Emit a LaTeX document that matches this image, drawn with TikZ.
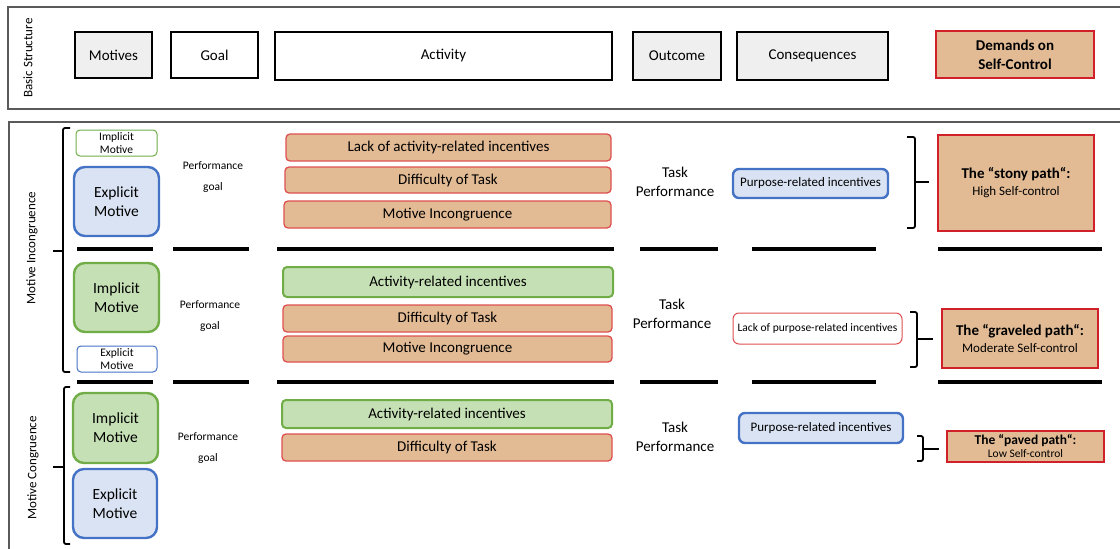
\documentclass[tikz,border=0pt]{standalone}
\usepackage{fontspec}
\setmainfont{Carlito}
\usetikzlibrary{positioning}

\definecolor{tanfill}{RGB}{226,187,149}
\definecolor{redline}{RGB}{222,80,80}
\definecolor{darkred}{RGB}{208,32,42}
\definecolor{greenfill}{RGB}{197,224,180}
\definecolor{greenline}{RGB}{112,173,71}
\definecolor{bluefill}{RGB}{218,227,243}
\definecolor{blueline}{RGB}{68,114,196}
\definecolor{grayfill}{RGB}{239,239,239}
\definecolor{framegray}{RGB}{90,90,90}

\newcommand{\fs}[2]{\fontsize{#1}{#2}\selectfont}

\begin{document}
\begin{tikzpicture}[x=1pt, y=-1pt,
    hdr/.style={draw=black, line width=2.4pt, inner sep=0pt, font=\fs{15}{19}, align=center},
    hdrgray/.style={hdr, fill=grayfill},
    actbox/.style={draw=redline, fill=tanfill, line width=1.3pt, rounded corners=4pt, inner sep=0pt, font=\fs{15}{18}},
    actgreen/.style={draw=greenline, fill=greenfill, line width=2pt, rounded corners=4pt, inner sep=0pt, font=\fs{15}{18}},
    motgreen/.style={draw=greenline, fill=greenfill, line width=2.4pt, rounded corners=11pt, inner sep=0pt, font=\fs{15.5}{19}, align=center},
    motblue/.style={draw=blueline, fill=bluefill, line width=2.4pt, rounded corners=11pt, inner sep=0pt, font=\fs{15.5}{19}, align=center},
    motsmall/.style={fill=white, line width=1pt, rounded corners=4pt, inner sep=0pt, font=\fs{11.5}{13}, align=center},
    sctrl/.style={draw=darkred, fill=tanfill, line width=2.4pt, inner sep=0pt, align=center},
    plain/.style={inner sep=0pt, align=center},
    sep/.style={line width=4pt},
    brace/.style={line width=1.8pt, rounded corners=2pt}]
\useasboundingbox (0,0) rectangle (1120,549);

% frames
\draw[framegray, line width=1.5pt] (1120,7) -- (8,7) -- (8,109) -- (1120,109);
\draw[framegray, line width=1.5pt] (1120,122) -- (9,122) -- (9,549);

% basic structure
\node[plain, rotate=90, font=\fs{13}{15}] (bslabel) at (28,58) {Basic Structure};
\node[hdrgray, minimum width=77pt, minimum height=46pt] (motives) at (113.5,55) {Motives};
\node[hdr, minimum width=87pt, minimum height=46pt] (goal) at (214.5,55) {Goal};
\node[hdr, minimum width=337pt, minimum height=48pt] (activity) at (443.5,56) {Activity};
\node[hdrgray, minimum width=88pt, minimum height=48pt] (outcome) at (677,56) {Outcome};
\node[hdrgray, minimum width=151pt, minimum height=48pt] (conseq) at (812.5,56) {Consequences};
\node[sctrl, minimum width=158pt, minimum height=47pt, font=\bfseries\fs{15}{19}] (demands) at (1015,54.5) {Demands on\\Self-Control};

% side labels
\node[plain, rotate=90, font=\fs{13}{15}] (incong) at (32,248) {Motive Incongruence};
\node[plain, rotate=90, font=\fs{13}{15}] (cong) at (33,468) {Motive Congruence};

% row 1: stony path
\node[motsmall, draw=greenline, minimum width=81pt, minimum height=26pt] (impS1) at (116.5,143) {Implicit\\Motive};
\node[motblue, minimum width=85pt, minimum height=69pt] (expB1) at (116.5,201.5) {Explicit\\Motive};
\node[plain, font=\fs{11.5}{21}] (pg1) at (213,177) {Performance\\goal};
\node[actbox, minimum width=325pt, minimum height=27pt] (a11) at (448.5,147.5) {Lack of activity-related incentives};
\node[actbox, minimum width=326pt, minimum height=26pt] (a12) at (448,180) {Difficulty of Task};
\node[actbox, minimum width=327pt, minimum height=27pt] (a13) at (447.5,214.5) {Motive Incongruence};
\node[plain, font=\fs{15}{19}] (tp1) at (675,181.5) {Task\\Performance};
\node[motblue, rounded corners=6pt, minimum width=155pt, minimum height=29pt, font=\fs{13}{15}] (pur1) at (810.5,183.5) {Purpose-related incentives};
\node[sctrl, minimum width=156pt, minimum height=96pt, font=\fs{13}{17}] (stony) at (1016,183) {{\bfseries\fs{15}{17}The “stony path“:}\\High Self-control};

% row 2: graveled path
\node[motgreen, minimum width=85pt, minimum height=69pt] (impB2) at (116.5,297.5) {Implicit\\Motive};
\node[motsmall, draw=blueline, minimum width=80pt, minimum height=26pt] (expS2) at (117,359) {Explicit\\Motive};
\node[plain, font=\fs{11.5}{21}] (pg2) at (210,316) {Performance\\goal};
\node[actgreen, minimum width=330pt, minimum height=30pt] (a21) at (448,282) {Activity-related incentives};
\node[actbox, minimum width=329pt, minimum height=27pt] (a22) at (447.5,318.5) {Difficulty of Task};
\node[actbox, minimum width=329pt, minimum height=26pt] (a23) at (447.5,349) {Motive Incongruence};
\node[plain, font=\fs{15}{19}] (tp2) at (672,313.5) {Task\\Performance};
\node[motsmall, draw=redline, rounded corners=6pt, minimum width=169pt, minimum height=31pt] (lpur) at (817.5,328.5) {Lack of purpose-related incentives};
\node[sctrl, minimum width=156pt, minimum height=59pt, font=\fs{13}{17}] (grav) at (1020,338.5) {{\bfseries\fs{15}{17}The “graveled path“:}\\Moderate Self-control};

% row 3: paved path
\node[motgreen, minimum width=85pt, minimum height=70pt] (impB3) at (115.5,428) {Implicit\\Motive};
\node[motblue, minimum width=84pt, minimum height=69pt] (expB3) at (115,503.5) {Explicit\\Motive};
\node[plain, font=\fs{11.5}{21}] (pg3) at (208,448) {Performance\\goal};
\node[actgreen, minimum width=330pt, minimum height=28pt] (a31) at (447,414) {Activity-related incentives};
\node[actbox, minimum width=330pt, minimum height=27pt] (a32) at (447,447.5) {Difficulty of Task};
\node[plain, font=\fs{15}{19}] (tp3) at (675,436.5) {Task\\Performance};
\node[motblue, rounded corners=6pt, minimum width=164pt, minimum height=30pt, font=\fs{13}{15}] (pur3) at (821,428) {Purpose-related incentives};
\node[sctrl, minimum width=157pt, minimum height=31pt, font=\fs{11.5}{13}] (paved) at (1025.5,446.5) {{\bfseries\fs{13.5}{15}The “paved path“:}\\Low Self-control};

% separators
\foreach \y in {249,382} {
  \draw[sep] (77,\y) -- (153,\y);
  \draw[sep] (173,\y) -- (249,\y);
  \draw[sep] (277,\y) -- (614,\y);
  \draw[sep] (640,\y) -- (718,\y);
  \draw[sep] (752,\y) -- (876,\y);
  \draw[sep] (938,\y) -- (1102,\y);
}

% brackets
\coordinate (lb1) at (53,251);
\coordinate (lb3) at (53,467);
\draw[brace] (70,128) -- (63,128) -- (63,372) -- (70,372);
\draw[line width=1.8pt] (63,251) -- (lb1);
\draw[brace] (70,387) -- (64,387) -- (64,544) -- (70,544);
\draw[line width=1.8pt] (64,467) -- (lb3);
\draw[brace] (907,137) -- (915,137) -- (915,228) -- (907,228);
\draw[line width=1.8pt] (915,182) -- (929,182);
\draw[brace] (910,312) -- (917,312) -- (917,367) -- (910,367);
\draw[line width=1.8pt] (917,339) -- (933,339);
\draw[brace] (917,436) -- (923,436) -- (923,461) -- (917,461);
\draw[line width=1.8pt] (923,449) -- (939,449);
\end{tikzpicture}
\end{document}
